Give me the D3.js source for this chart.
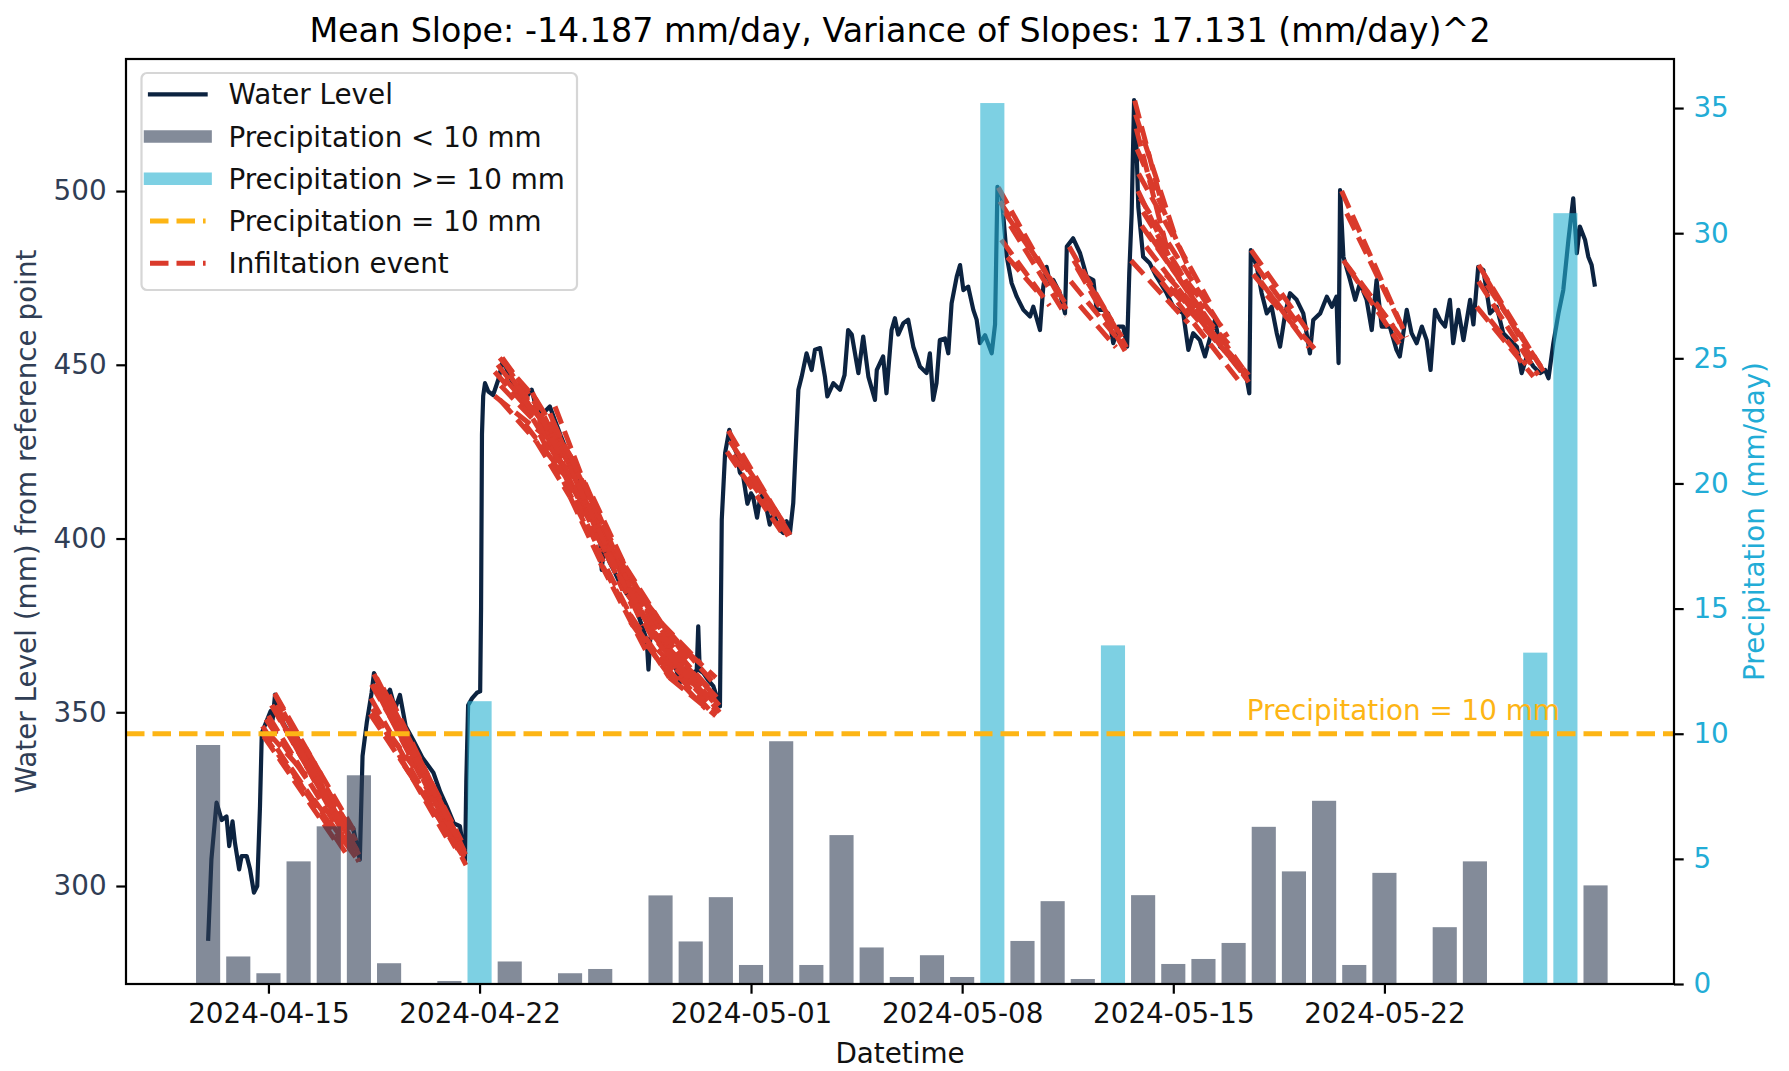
<!DOCTYPE html>
<html>
<head>
<meta charset="utf-8">
<script src="https://cdn.jsdelivr.net/npm/d3@7"></script>
<style>
  body { margin: 0; background: #fff; }
  svg text { font-family: "DejaVu Sans", sans-serif; }
</style>
</head>
<body>
<svg id="chart"></svg>
<script>
// Water level series [time, mm from reference point]
const waterLevel = [
  ["2024-04-13 00:00", 284.2], ["2024-04-13 02:38", 307.7], ["2024-04-13 06:43", 324.0], ["2024-04-13 10:48", 319.0],
  ["2024-04-13 14:38", 320.0], ["2024-04-13 16:48", 311.5], ["2024-04-13 19:26", 318.6], ["2024-04-13 21:22", 312.4],
  ["2024-04-14 00:43", 304.8], ["2024-04-14 02:38", 308.6], ["2024-04-14 06:43", 308.6], ["2024-04-14 09:22", 304.8],
  ["2024-04-14 12:29", 298.1], ["2024-04-14 15:07", 300.0], ["2024-04-14 17:17", 323.0], ["2024-04-14 18:43", 344.0],
  ["2024-04-14 23:02", 347.9], ["2024-04-15 01:41", 350.3], ["2024-04-15 03:22", 347.9], ["2024-04-15 05:17", 355.1],
  ["2024-04-15 09:07", 348.9], ["2024-04-15 13:12", 346.0], ["2024-04-15 16:48", 344.0], ["2024-04-15 20:24", 345.0],
  ["2024-04-16 00:00", 342.0], ["2024-04-16 06:29", 339.3], ["2024-04-16 12:00", 333.0], ["2024-04-16 19:41", 325.8],
  ["2024-04-17 02:24", 322.0], ["2024-04-17 07:12", 320.5], ["2024-04-17 11:31", 319.1], ["2024-04-17 15:36", 317.0],
  ["2024-04-17 19:26", 316.7], ["2024-04-17 23:31", 309.6], ["2024-04-18 00:43", 307.6], ["2024-04-18 02:53", 337.4],
  ["2024-04-18 06:14", 347.0], ["2024-04-18 10:05", 355.6], ["2024-04-18 12:00", 361.3], ["2024-04-18 16:48", 356.5],
  ["2024-04-18 20:24", 354.0], ["2024-04-19 00:43", 356.5], ["2024-04-19 04:48", 351.0], ["2024-04-19 08:38", 355.0],
  ["2024-04-19 13:12", 346.0], ["2024-04-19 19:12", 342.0], ["2024-04-20 02:24", 337.0], ["2024-04-20 11:17", 332.6],
  ["2024-04-20 16:48", 327.0], ["2024-04-20 21:50", 323.0], ["2024-04-21 03:36", 318.0], ["2024-04-21 08:24", 317.2],
  ["2024-04-21 12:29", 307.2], ["2024-04-21 13:26", 330.0], ["2024-04-21 14:53", 352.0], ["2024-04-21 18:00", 354.0],
  ["2024-04-21 21:50", 355.6], ["2024-04-22 00:29", 356.0], ["2024-04-22 01:12", 380.0], ["2024-04-22 01:55", 430.0],
  ["2024-04-22 02:53", 441.0], ["2024-04-22 04:19", 444.7], ["2024-04-22 06:58", 442.3], ["2024-04-22 10:48", 441.3],
  ["2024-04-22 14:53", 445.7], ["2024-04-22 18:43", 451.4], ["2024-04-23 00:00", 446.6], ["2024-04-23 04:48", 443.0],
  ["2024-04-23 08:10", 441.8], ["2024-04-23 12:00", 440.0], ["2024-04-23 17:31", 442.8], ["2024-04-23 21:22", 437.0],
  ["2024-04-24 02:24", 436.0], ["2024-04-24 07:55", 438.0], ["2024-04-24 12:00", 434.0], ["2024-04-24 15:50", 430.3],
  ["2024-04-24 19:55", 426.5], ["2024-04-25 00:00", 422.7], ["2024-04-25 04:05", 419.0], ["2024-04-25 07:55", 415.0],
  ["2024-04-25 12:00", 411.0], ["2024-04-25 15:50", 407.3], ["2024-04-25 19:55", 403.5], ["2024-04-26 00:00", 399.7],
  ["2024-04-26 01:12", 391.0], ["2024-04-26 02:53", 397.0], ["2024-04-26 07:41", 393.0], ["2024-04-26 12:00", 390.0],
  ["2024-04-26 15:36", 387.2], ["2024-04-26 20:24", 384.5], ["2024-04-27 02:24", 381.4], ["2024-04-27 07:12", 377.0],
  ["2024-04-27 12:58", 370.9], ["2024-04-27 14:24", 362.3], ["2024-04-27 15:50", 371.5], ["2024-04-27 20:53", 371.9],
  ["2024-04-28 02:24", 369.0], ["2024-04-28 07:26", 367.0], ["2024-04-28 12:00", 363.0], ["2024-04-28 15:22", 358.5],
  ["2024-04-28 19:12", 362.5], ["2024-04-28 23:31", 361.0], ["2024-04-29 04:48", 362.0], ["2024-04-29 06:00", 374.7],
  ["2024-04-29 07:12", 362.0], ["2024-04-29 10:05", 361.3], ["2024-04-29 14:24", 359.0], ["2024-04-29 18:00", 357.5],
  ["2024-04-29 23:17", 351.7], ["2024-04-30 00:43", 405.4], ["2024-04-30 03:22", 424.6], ["2024-04-30 06:43", 431.3],
  ["2024-04-30 09:36", 427.0], ["2024-04-30 12:29", 424.6], ["2024-04-30 15:07", 419.0], ["2024-04-30 17:46", 417.9],
  ["2024-04-30 21:07", 410.0], ["2024-05-01 00:00", 413.0], ["2024-05-01 01:41", 412.0], ["2024-05-01 04:48", 406.0],
  ["2024-05-01 07:12", 411.5], ["2024-05-01 09:50", 413.0], ["2024-05-01 12:29", 408.3], ["2024-05-01 14:53", 404.0],
  ["2024-05-01 17:46", 407.3], ["2024-05-01 23:02", 402.5], ["2024-05-02 01:41", 401.6], ["2024-05-02 04:19", 405.0],
  ["2024-05-02 06:58", 401.6], ["2024-05-02 09:36", 410.2], ["2024-05-02 11:02", 421.7], ["2024-05-02 13:41", 442.8],
  ["2024-05-02 16:19", 446.6], ["2024-05-02 20:10", 453.3], ["2024-05-03 00:14", 448.5], ["2024-05-03 02:53", 454.3],
  ["2024-05-03 06:58", 454.8], ["2024-05-03 10:48", 446.6], ["2024-05-03 12:43", 440.9], ["2024-05-03 17:31", 444.7],
  ["2024-05-03 22:48", 442.8], ["2024-05-04 02:24", 447.0], ["2024-05-04 05:17", 460.0], ["2024-05-04 08:10", 458.7],
  ["2024-05-04 13:26", 447.6], ["2024-05-04 17:17", 458.1], ["2024-05-04 21:22", 446.6], ["2024-05-05 02:38", 439.9],
  ["2024-05-05 04:05", 448.5], ["2024-05-05 09:07", 452.4], ["2024-05-05 11:46", 441.8], ["2024-05-05 15:50", 460.0],
  ["2024-05-05 18:29", 463.4], ["2024-05-05 21:07", 458.7], ["2024-05-06 01:12", 462.0], ["2024-05-06 05:02", 463.0],
  ["2024-05-06 09:07", 455.2], ["2024-05-06 14:24", 449.5], ["2024-05-06 19:41", 447.6], ["2024-05-06 22:19", 453.3],
  ["2024-05-07 00:58", 439.9], ["2024-05-07 03:36", 444.7], ["2024-05-07 06:14", 457.1], ["2024-05-07 10:19", 457.6],
  ["2024-05-07 12:58", 453.3], ["2024-05-07 15:36", 467.7], ["2024-05-07 19:41", 475.4], ["2024-05-07 22:19", 478.7],
  ["2024-05-08 00:58", 471.5], ["2024-05-08 04:48", 472.5], ["2024-05-08 08:53", 465.8], ["2024-05-08 11:31", 463.0],
  ["2024-05-08 14:10", 456.2], ["2024-05-08 18:14", 458.5], ["2024-05-08 23:31", 453.3], ["2024-05-09 02:10", 461.6],
  ["2024-05-09 04:05", 501.2], ["2024-05-09 07:26", 498.4], ["2024-05-09 11:31", 481.1], ["2024-05-09 15:22", 473.5],
  ["2024-05-09 19:26", 469.6], ["2024-05-10 00:43", 465.8], ["2024-05-10 06:00", 463.9], ["2024-05-10 08:38", 466.7],
  ["2024-05-10 13:55", 460.0], ["2024-05-10 16:34", 472.5], ["2024-05-10 19:12", 478.2], ["2024-05-10 21:50", 473.5],
  ["2024-05-11 00:29", 474.4], ["2024-05-11 05:46", 470.6], ["2024-05-11 09:50", 464.8], ["2024-05-11 11:17", 484.0],
  ["2024-05-11 16:19", 486.4], ["2024-05-11 21:50", 482.1], ["2024-05-12 03:07", 475.4], ["2024-05-12 08:24", 474.4],
  ["2024-05-12 11:02", 465.8], ["2024-05-12 16:19", 465.8], ["2024-05-12 20:10", 464.8], ["2024-05-13 00:14", 456.2],
  ["2024-05-13 04:19", 461.0], ["2024-05-13 08:10", 461.0], ["2024-05-13 11:17", 455.2], ["2024-05-13 12:58", 476.3],
  ["2024-05-13 14:53", 493.6], ["2024-05-13 16:48", 526.2], ["2024-05-13 18:43", 512.7], ["2024-05-13 20:10", 495.4],
  ["2024-05-14 00:00", 481.1], ["2024-05-14 05:17", 479.2], ["2024-05-14 10:34", 475.4], ["2024-05-14 18:43", 470.6],
  ["2024-05-15 00:00", 466.7], ["2024-05-15 07:55", 464.8], ["2024-05-15 12:00", 454.3], ["2024-05-15 15:50", 459.1],
  ["2024-05-15 21:07", 457.1], ["2024-05-16 01:12", 452.4], ["2024-05-16 09:07", 462.9], ["2024-05-16 13:12", 455.2],
  ["2024-05-16 21:07", 453.3], ["2024-05-17 05:02", 449.5], ["2024-05-17 10:34", 445.7], ["2024-05-17 12:29", 441.8],
  ["2024-05-17 13:41", 483.0], ["2024-05-17 18:29", 478.2], ["2024-05-17 22:19", 470.6], ["2024-05-18 02:24", 464.8],
  ["2024-05-18 06:14", 466.7], ["2024-05-18 10:19", 459.1], ["2024-05-18 12:58", 455.2], ["2024-05-18 17:02", 464.8],
  ["2024-05-18 20:53", 470.6], ["2024-05-19 02:10", 468.7], ["2024-05-19 07:26", 464.8], ["2024-05-19 12:43", 453.3],
  ["2024-05-19 15:22", 462.9], ["2024-05-19 20:53", 464.8], ["2024-05-20 02:10", 469.6], ["2024-05-20 06:14", 466.7],
  ["2024-05-20 09:50", 469.6], ["2024-05-20 11:31", 450.5], ["2024-05-20 12:43", 500.3], ["2024-05-20 15:22", 481.1],
  ["2024-05-20 20:38", 474.4], ["2024-05-21 00:43", 468.7], ["2024-05-21 04:34", 473.5], ["2024-05-21 09:50", 468.7],
  ["2024-05-21 13:55", 460.0], ["2024-05-21 17:46", 474.4], ["2024-05-21 21:50", 461.0], ["2024-05-22 04:19", 461.0],
  ["2024-05-22 09:36", 454.3], ["2024-05-22 12:14", 452.4], ["2024-05-22 17:46", 465.8], ["2024-05-22 21:36", 459.1],
  ["2024-05-23 01:41", 456.2], ["2024-05-23 05:46", 461.0], ["2024-05-23 09:36", 457.1], ["2024-05-23 12:43", 448.5],
  ["2024-05-23 16:19", 465.8], ["2024-05-23 20:10", 462.9], ["2024-05-24 00:14", 461.0], ["2024-05-24 04:05", 468.7],
  ["2024-05-24 06:43", 456.2], ["2024-05-24 10:48", 465.8], ["2024-05-24 14:53", 457.1], ["2024-05-24 20:10", 468.7],
  ["2024-05-24 22:48", 461.6], ["2024-05-25 02:38", 478.2], ["2024-05-25 06:43", 477.3], ["2024-05-25 12:00", 464.8],
  ["2024-05-25 17:17", 466.7], ["2024-05-25 22:34", 459.1], ["2024-05-26 04:05", 457.1], ["2024-05-26 09:22", 455.2],
  ["2024-05-26 13:12", 447.6], ["2024-05-26 17:17", 452.4], ["2024-05-26 22:34", 449.5], ["2024-05-27 03:50", 447.6],
  ["2024-05-27 07:55", 448.5], ["2024-05-27 10:34", 446.1], ["2024-05-27 14:24", 456.2], ["2024-05-27 18:29", 464.8],
  ["2024-05-27 22:19", 471.5], ["2024-05-28 02:24", 485.9], ["2024-05-28 06:14", 497.9], ["2024-05-28 09:07", 482.1],
  ["2024-05-28 11:31", 489.8], ["2024-05-28 15:36", 486.0], ["2024-05-28 18:14", 481.1], ["2024-05-28 20:53", 478.7],
  ["2024-05-28 23:31", 472.5]
];

// Daily precipitation (mm/day)
const precipDates = [
  "2024-04-13", "2024-04-14", "2024-04-15", "2024-04-16", "2024-04-17", "2024-04-18", "2024-04-19", "2024-04-20",
  "2024-04-21", "2024-04-22", "2024-04-23", "2024-04-24", "2024-04-25", "2024-04-26", "2024-04-27", "2024-04-28",
  "2024-04-29", "2024-04-30", "2024-05-01", "2024-05-02", "2024-05-03", "2024-05-04", "2024-05-05", "2024-05-06",
  "2024-05-07", "2024-05-08", "2024-05-09", "2024-05-10", "2024-05-11", "2024-05-12", "2024-05-13", "2024-05-14",
  "2024-05-15", "2024-05-16", "2024-05-17", "2024-05-18", "2024-05-19", "2024-05-20", "2024-05-21", "2024-05-22",
  "2024-05-23", "2024-05-24", "2024-05-25", "2024-05-26", "2024-05-27", "2024-05-28", "2024-05-29"
];
const precipValues = [
  9.55, 1.1, 0.43, 4.9, 6.3, 8.34, 0.83, 0,
  0.12, 11.3, 0.9, 0, 0.43, 0.6, 0, 3.54,
  1.7, 3.47, 0.76, 9.7, 0.76, 5.95, 1.46, 0.28,
  1.15, 0.28, 35.2, 1.72, 3.31, 0.2, 13.53, 3.55,
  0.8, 1.0, 1.64, 6.28, 4.5, 7.32, 0.76, 4.44,
  0, 2.27, 4.9, 0, 13.24, 30.8, 3.94
];
const precipThreshold = 10;

// Infiltration event fits: [start time, start level, end time, end level]
const infiltrationEvents = [
  // 04-15 recession
  ["2024-04-15 05:17", 355, "2024-04-17 21:36", 313], ["2024-04-15 06:00", 352, "2024-04-18 00:00", 309],
  ["2024-04-15 00:00", 349, "2024-04-17 16:48", 311], ["2024-04-14 19:12", 346, "2024-04-17 14:24", 309],
  ["2024-04-14 20:24", 343, "2024-04-17 07:12", 312], ["2024-04-15 09:36", 348, "2024-04-18 00:00", 307],
  ["2024-04-15 14:24", 345, "2024-04-17 19:12", 313], ["2024-04-15 02:24", 352, "2024-04-17 12:00", 316],
  ["2024-04-16 00:00", 341, "2024-04-17 22:48", 310],
  ["2024-04-15 03:00", 352, "2024-04-16 12:00", 331], ["2024-04-15 12:00", 350, "2024-04-16 20:00", 328],
  ["2024-04-15 18:00", 344, "2024-04-17 00:00", 324], ["2024-04-16 00:00", 340, "2024-04-17 06:00", 321],
  ["2024-04-16 06:00", 336, "2024-04-17 12:00", 315], ["2024-04-16 12:00", 334, "2024-04-17 18:00", 316],
  ["2024-04-16 18:00", 328, "2024-04-17 23:00", 310], ["2024-04-15 00:00", 344, "2024-04-16 06:00", 332],
  ["2024-04-14 22:00", 348, "2024-04-16 08:00", 330],
  ["2024-04-15 05:00", 355.5, "2024-04-16 18:00", 332], ["2024-04-16 06:00", 339.5, "2024-04-17 20:00", 316],
  ["2024-04-14 19:00", 344, "2024-04-16 06:00", 327], ["2024-04-15 18:00", 334, "2024-04-17 12:00", 312],
  ["2024-04-16 12:00", 325, "2024-04-17 22:00", 308],
  // 04-18 recession
  ["2024-04-18 12:00", 361, "2024-04-21 12:00", 308], ["2024-04-18 13:12", 358, "2024-04-21 07:12", 311],
  ["2024-04-18 09:36", 354, "2024-04-21 04:48", 311], ["2024-04-18 14:24", 356, "2024-04-21 13:12", 306],
  ["2024-04-18 10:48", 351, "2024-04-20 21:36", 314], ["2024-04-18 19:12", 357, "2024-04-21 09:36", 313],
  ["2024-04-19 00:00", 355, "2024-04-21 12:00", 310], ["2024-04-18 12:00", 358, "2024-04-21 00:00", 316],
  ["2024-04-18 10:00", 358, "2024-04-19 18:00", 338], ["2024-04-18 16:00", 357, "2024-04-20 00:00", 334],
  ["2024-04-18 22:00", 352, "2024-04-20 06:00", 330], ["2024-04-19 06:00", 347, "2024-04-20 14:00", 325],
  ["2024-04-19 12:00", 344, "2024-04-20 20:00", 322], ["2024-04-19 20:00", 337, "2024-04-21 04:00", 316],
  ["2024-04-20 04:00", 331, "2024-04-21 12:00", 309], ["2024-04-20 10:00", 326, "2024-04-21 13:00", 309],
  ["2024-04-18 12:00", 350, "2024-04-19 20:00", 334],
  ["2024-04-18 14:00", 360, "2024-04-19 22:00", 337], ["2024-04-19 12:00", 344, "2024-04-21 06:00", 314],
  ["2024-04-18 09:00", 349.5, "2024-04-19 18:00", 331.5], ["2024-04-19 12:00", 334.7, "2024-04-21 06:00", 311.5],
  ["2024-04-20 06:00", 324.7, "2024-04-21 10:00", 309],
  // 04-22 recession
  ["2024-04-22 14:24", 450, "2024-04-24 14:24", 428], ["2024-04-22 19:12", 451, "2024-04-25 00:00", 421],
  ["2024-04-22 16:48", 444, "2024-04-24 19:12", 425], ["2024-04-22 12:00", 441, "2024-04-24 09:36", 428],
  ["2024-04-23 07:12", 441, "2024-04-25 12:00", 410], ["2024-04-23 19:12", 438, "2024-04-26 00:00", 399],
  ["2024-04-24 04:48", 430, "2024-04-26 09:36", 392], ["2024-04-24 14:24", 430, "2024-04-26 19:12", 390],
  ["2024-04-25 00:00", 420, "2024-04-27 04:48", 381], ["2024-04-25 09:36", 411, "2024-04-27 12:00", 377],
  ["2024-04-25 19:12", 406, "2024-04-28 00:00", 372], ["2024-04-26 04:48", 398, "2024-04-28 09:36", 367],
  ["2024-04-26 14:24", 392, "2024-04-28 19:12", 364], ["2024-04-27 00:00", 386, "2024-04-29 04:48", 360],
  ["2024-04-27 09:36", 378, "2024-04-29 14:24", 357], ["2024-04-27 19:12", 373, "2024-04-29 22:48", 352],
  ["2024-04-28 04:48", 369, "2024-04-29 21:36", 354], ["2024-04-27 14:24", 380, "2024-04-29 16:48", 359],
  ["2024-04-26 21:36", 384, "2024-04-29 00:00", 358], ["2024-04-23 00:00", 447, "2024-04-25 04:48", 418],
  ["2024-04-27 21:36", 368, "2024-04-29 21:36", 350], ["2024-04-28 00:00", 366, "2024-04-29 19:12", 349],
  ["2024-04-22 12:00", 448, "2024-04-23 18:00", 436], ["2024-04-22 18:00", 452, "2024-04-24 00:00", 437],
  ["2024-04-22 20:00", 446, "2024-04-24 06:00", 432], ["2024-04-23 06:00", 444, "2024-04-24 18:00", 426],
  ["2024-04-23 12:00", 440, "2024-04-25 00:00", 416], ["2024-04-23 18:00", 442, "2024-04-25 06:00", 416],
  ["2024-04-24 00:00", 436, "2024-04-25 12:00", 408], ["2024-04-24 08:00", 436, "2024-04-25 20:00", 404],
  ["2024-04-24 16:00", 428, "2024-04-26 04:00", 396], ["2024-04-25 00:00", 424, "2024-04-26 12:00", 392],
  ["2024-04-25 06:00", 416, "2024-04-26 18:00", 385], ["2024-04-25 14:00", 410, "2024-04-27 02:00", 380],
  ["2024-04-25 22:00", 403, "2024-04-27 10:00", 375], ["2024-04-26 06:00", 396, "2024-04-27 18:00", 371],
  ["2024-04-26 14:00", 390, "2024-04-28 02:00", 368], ["2024-04-26 22:00", 386, "2024-04-28 10:00", 363],
  ["2024-04-27 06:00", 380, "2024-04-28 18:00", 360], ["2024-04-27 14:00", 374, "2024-04-29 02:00", 358],
  ["2024-04-27 22:00", 370, "2024-04-29 10:00", 355], ["2024-04-28 06:00", 368, "2024-04-29 18:00", 353],
  ["2024-04-28 14:00", 364, "2024-04-29 23:00", 350], ["2024-04-24 12:00", 438, "2024-04-26 00:00", 404],
  ["2024-04-25 12:00", 416, "2024-04-27 00:00", 386], ["2024-04-26 12:00", 396, "2024-04-28 00:00", 374],
  ["2024-04-27 12:00", 382, "2024-04-29 00:00", 364], ["2024-04-24 00:00", 430, "2024-04-25 12:00", 404],
  ["2024-04-26 00:00", 393, "2024-04-27 12:00", 368], ["2024-04-27 00:00", 376, "2024-04-28 12:00", 358],
  ["2024-04-22 16:00", 452, "2024-04-23 21:00", 440], ["2024-04-23 21:00", 440, "2024-04-25 00:00", 424],
  ["2024-04-24 10:00", 434, "2024-04-25 18:00", 410], ["2024-04-25 00:00", 424, "2024-04-26 02:00", 404],
  ["2024-04-25 18:00", 412, "2024-04-26 20:00", 392], ["2024-04-26 02:00", 404, "2024-04-27 05:00", 386],
  ["2024-04-26 20:00", 392, "2024-04-28 00:00", 376], ["2024-04-27 05:00", 386, "2024-04-28 07:00", 372],
  ["2024-04-28 00:00", 376, "2024-04-29 08:00", 364], ["2024-04-28 07:00", 372, "2024-04-29 20:00", 360],
  ["2024-04-22 16:00", 440, "2024-04-23 21:00", 428], ["2024-04-23 12:00", 433, "2024-04-24 20:00", 418],
  ["2024-04-23 21:00", 428, "2024-04-25 00:00", 412], ["2024-04-24 20:00", 418, "2024-04-26 00:00", 396],
  ["2024-04-25 00:00", 412, "2024-04-26 02:00", 392], ["2024-04-25 20:00", 398, "2024-04-27 00:00", 378],
  ["2024-04-26 02:00", 392, "2024-04-27 05:00", 374.5], ["2024-04-27 00:00", 378, "2024-04-28 04:00", 363],
  ["2024-04-27 05:00", 374.5, "2024-04-28 07:00", 360], ["2024-04-28 04:00", 363, "2024-04-29 12:00", 351],
  ["2024-04-28 07:00", 360, "2024-04-29 20:00", 349],
  // 04-30 recession
  ["2024-04-30 06:00", 431, "2024-05-02 07:12", 401], ["2024-04-30 07:12", 428, "2024-05-02 04:48", 403],
  ["2024-04-30 04:48", 425, "2024-05-02 00:00", 402], ["2024-04-30 09:36", 424, "2024-05-02 06:00", 400.5],
  ["2024-04-30 14:24", 424, "2024-05-01 21:36", 405],
  // 05-09 recession
  ["2024-05-09 04:48", 501, "2024-05-11 10:48", 466], ["2024-05-09 06:00", 497, "2024-05-11 09:36", 468],
  ["2024-05-09 09:36", 494, "2024-05-11 07:12", 470], ["2024-05-09 07:12", 486, "2024-05-10 21:36", 467],
  ["2024-05-09 12:00", 481, "2024-05-10 14:24", 470], ["2024-05-09 14:24", 490, "2024-05-11 10:48", 464],
  // 05-11 recession
  ["2024-05-11 13:12", 484, "2024-05-13 10:48", 455], ["2024-05-11 16:48", 480, "2024-05-13 07:12", 458],
  ["2024-05-11 14:24", 474, "2024-05-13 04:48", 457], ["2024-05-11 21:36", 467, "2024-05-13 02:24", 455],
  ["2024-05-11 19:12", 478, "2024-05-13 09:36", 454],
  // 05-13 recession
  ["2024-05-13 17:17", 526, "2024-05-14 14:24", 497], ["2024-05-13 18:00", 522, "2024-05-15 02:24", 486],
  ["2024-05-13 19:12", 512, "2024-05-15 14:24", 476], ["2024-05-13 20:24", 505, "2024-05-16 04:48", 468],
  ["2024-05-13 21:36", 498, "2024-05-16 19:12", 458], ["2024-05-13 22:48", 490, "2024-05-17 07:12", 449],
  ["2024-05-14 02:24", 484, "2024-05-17 10:48", 446], ["2024-05-14 07:12", 478, "2024-05-17 09:36", 447],
  ["2024-05-13 14:24", 480, "2024-05-15 12:00", 462], ["2024-05-14 14:24", 474, "2024-05-17 07:12", 444],
  ["2024-05-15 00:00", 472, "2024-05-17 12:00", 447], ["2024-05-14 00:00", 494, "2024-05-16 00:00", 466],
  ["2024-05-14 09:36", 486, "2024-05-16 14:24", 461],
  ["2024-05-13 18:30", 518, "2024-05-14 20:00", 482], ["2024-05-14 04:00", 488, "2024-05-16 08:00", 460],
  ["2024-05-14 18:00", 476, "2024-05-16 20:00", 456], ["2024-05-15 06:00", 470, "2024-05-17 06:00", 448],
  ["2024-05-15 18:00", 466, "2024-05-17 12:00", 445], ["2024-05-13 20:00", 500, "2024-05-15 06:00", 474],
  // 05-17 recession
  ["2024-05-17 13:55", 483, "2024-05-19 14:24", 458], ["2024-05-17 16:48", 479, "2024-05-19 04:48", 461],
  ["2024-05-17 21:36", 474, "2024-05-19 12:00", 455], ["2024-05-18 02:24", 470, "2024-05-19 18:00", 454],
  ["2024-05-17 15:36", 476, "2024-05-18 21:36", 463],
  // 05-20 recession
  ["2024-05-20 13:55", 500, "2024-05-22 17:46", 458], ["2024-05-20 18:00", 493.6, "2024-05-22 12:29", 462],
  ["2024-05-20 15:22", 480, "2024-05-22 15:07", 457], ["2024-05-21 04:34", 474, "2024-05-22 07:12", 461],
  ["2024-05-20 19:12", 478, "2024-05-22 12:00", 456],
  // 05-25 recession
  ["2024-05-25 02:53", 478.7, "2024-05-27 09:07", 446.6], ["2024-05-25 02:53", 474, "2024-05-27 02:24", 447],
  ["2024-05-25 01:26", 466.7, "2024-05-26 22:34", 446.6], ["2024-05-25 09:36", 473, "2024-05-27 07:12", 448],
  ["2024-05-25 12:00", 463, "2024-05-26 16:48", 450], ["2024-05-25 07:12", 476, "2024-05-27 00:00", 450]
];

const xTickDates = ["2024-04-15", "2024-04-22", "2024-05-01", "2024-05-08", "2024-05-15", "2024-05-22"];
const levelTicks = [300, 350, 400, 450, 500];
const precipTicks = [0, 5, 10, 15, 20, 25, 30, 35];

const legendLabels = ["Water Level", "Precipitation < 10 mm", "Precipitation >= 10 mm", "Precipitation = 10 mm", "Infiltation event"];

const colors = {
  level: '#0c2340',
  levelAxis: '#303e55',
  lowRain: '#303e55',
  highRain: '#26b1d0',
  rainAxis: '#22acd6',
  threshold: '#fdb515',
  infil: '#da3a2b'
};

const config = {
  width: 1789, height: 1071,
  margin: { top: 59, right: 115, bottom: 87, left: 126 },
  fontSize: 27.8
};

const parseTime = d3.utcParse('%Y-%m-%d %H:%M');
const parseDay = d3.utcParse('%Y-%m-%d');
const DAY = 864e5;

const svg = d3.select('#chart')
  .attr('width', config.width)
  .attr('height', config.height);

const innerW = config.width - config.margin.left - config.margin.right;
const innerH = config.height - config.margin.top - config.margin.bottom;
const plotLeft = config.margin.left, plotTop = config.margin.top;
const plotRight = plotLeft + innerW, plotBottom = plotTop + innerH;

// Scales
const xScale = d3.scaleUtc()
  .domain([parseTime('2024-04-10 06:40'), parseTime('2024-05-31 14:25')])
  .range([plotLeft, plotRight]);

const yLevel = d3.scaleLinear().domain([271.8, 538]).range([plotBottom, plotTop]);
const yRain = d3.scaleLinear().domain([0, 36.96]).range([plotBottom, plotTop]);

svg.append('defs').append('clipPath').attr('id', 'plot-clip')
  .append('rect')
  .attr('x', plotLeft).attr('y', plotTop).attr('width', innerW).attr('height', innerH);

const plot = svg.append('g').attr('clip-path', 'url(#plot-clip)');

// Water level line
const levelData = waterLevel.map(d => ({ t: parseTime(d[0]), v: d[1] }));
plot.append('path')
  .datum(levelData)
  .attr('fill', 'none')
  .attr('stroke', colors.level)
  .attr('stroke-width', 4.2)
  .attr('stroke-linejoin', 'round')
  .attr('d', d3.line().x(d => xScale(d.t)).y(d => yLevel(d.v)));

// Infiltration event fits
plot.selectAll('.infil')
  .data(infiltrationEvents)
  .enter().append('line')
  .attr('class', 'infil')
  .attr('x1', d => xScale(parseTime(d[0])))
  .attr('y1', d => yLevel(d[1]))
  .attr('x2', d => xScale(parseTime(d[2])))
  .attr('y2', d => yLevel(d[3]))
  .attr('stroke', colors.infil)
  .attr('stroke-width', 5)
  .attr('stroke-dasharray', '18.5,8');

// Precipitation bars (twin axis, drawn on top with alpha)
const rainData = precipDates.map((d, i) => ({ t: parseDay(d), v: precipValues[i] }));
plot.selectAll('.bar')
  .data(rainData)
  .enter().append('rect')
  .attr('class', 'bar')
  .attr('x', d => xScale(new Date(+d.t - 0.4 * DAY)))
  .attr('width', d => xScale(new Date(+d.t + 0.4 * DAY)) - xScale(new Date(+d.t - 0.4 * DAY)))
  .attr('y', d => yRain(d.v))
  .attr('height', d => yRain(0) - yRain(d.v))
  .attr('fill', d => d.v >= precipThreshold ? colors.highRain : colors.lowRain)
  .attr('fill-opacity', 0.6);

// Threshold line
plot.append('line')
  .attr('x1', plotLeft).attr('x2', plotRight)
  .attr('y1', yRain(precipThreshold)).attr('y2', yRain(precipThreshold))
  .attr('stroke', colors.threshold)
  .attr('stroke-width', 5)
  .attr('stroke-dasharray', '18.5,8');

svg.append('text')
  .attr('x', xScale(parseTime('2024-05-17 10:30')))
  .attr('y', yRain(10.53))
  .attr('fill', colors.threshold)
  .style('font-size', config.fontSize + 'px')
  .text('Precipitation = 10 mm');

// Axes
function styleAxis(g, labelColor) {
  g.select('.domain').remove();
  g.selectAll('.tick line').attr('stroke', '#000').attr('stroke-width', 2.2);
  g.selectAll('.tick text')
    .attr('fill', labelColor)
    .style('font-size', config.fontSize + 'px')
    .style('font-family', '"DejaVu Sans", sans-serif');
}

svg.append('g')
  .attr('transform', `translate(0,${plotBottom})`)
  .call(d3.axisBottom(xScale)
    .tickValues(xTickDates.map(parseDay))
    .tickFormat(d3.utcFormat('%Y-%m-%d'))
    .tickSize(9.7).tickPadding(9.7))
  .call(g => styleAxis(g, '#111'));

svg.append('g')
  .attr('transform', `translate(${plotLeft},0)`)
  .call(d3.axisLeft(yLevel).tickValues(levelTicks).tickSize(9.7).tickPadding(9.7))
  .call(g => styleAxis(g, colors.levelAxis));

svg.append('g')
  .attr('transform', `translate(${plotRight},0)`)
  .call(d3.axisRight(yRain).tickValues(precipTicks).tickSize(9.7).tickPadding(9.7))
  .call(g => styleAxis(g, colors.rainAxis));

// Spines
svg.append('rect')
  .attr('x', plotLeft).attr('y', plotTop)
  .attr('width', innerW).attr('height', innerH)
  .attr('fill', 'none')
  .attr('stroke', '#000')
  .attr('stroke-width', 2.2);

// Title and axis labels
svg.append('text')
  .attr('x', (plotLeft + plotRight) / 2).attr('y', 42)
  .attr('text-anchor', 'middle')
  .style('font-size', '33.3px')
  .attr('fill', '#000')
  .text('Mean Slope: -14.187 mm/day, Variance of Slopes: 17.131 (mm/day)^2');

svg.append('text')
  .attr('x', (plotLeft + plotRight) / 2).attr('y', 1063)
  .attr('text-anchor', 'middle')
  .style('font-size', config.fontSize + 'px')
  .attr('fill', '#111')
  .text('Datetime');

svg.append('text')
  .attr('transform', `translate(36,${(plotTop + plotBottom) / 2}) rotate(-90)`)
  .attr('text-anchor', 'middle')
  .style('font-size', config.fontSize + 'px')
  .attr('fill', colors.levelAxis)
  .text('Water Level (mm) from reference point');

svg.append('text')
  .attr('transform', `translate(1764,${(plotTop + plotBottom) / 2}) rotate(-90)`)
  .attr('text-anchor', 'middle')
  .style('font-size', config.fontSize + 'px')
  .attr('fill', colors.rainAxis)
  .text('Precipitation (mm/day)');

// Legend
const legend = svg.append('g');
legend.append('rect')
  .attr('x', 141.5).attr('y', 73)
  .attr('width', 435.5).attr('height', 217)
  .attr('rx', 5.5)
  .attr('fill', '#fff').attr('fill-opacity', 0.8)
  .attr('stroke', '#d6d6d6').attr('stroke-width', 2.2);

const handleStyles = [
  { color: colors.level, width: 4.2, dash: null, opacity: 1 },
  { color: colors.lowRain, width: 12.5, dash: null, opacity: 0.6 },
  { color: colors.highRain, width: 12.5, dash: null, opacity: 0.6 },
  { color: colors.threshold, width: 5, dash: '18.5,8', opacity: 1 },
  { color: colors.infil, width: 5, dash: '18.5,8', opacity: 1 }
];

legendLabels.forEach((label, i) => {
  const cy = 94.3 + i * 42.25;
  const s = handleStyles[i];
  legend.append('line')
    .attr('x1', 150).attr('x2', 205.6)
    .attr('y1', cy).attr('y2', cy)
    .attr('stroke', s.color)
    .attr('stroke-opacity', s.opacity)
    .attr('stroke-width', s.width)
    .attr('stroke-linecap', s.dash ? 'butt' : 'square')
    .attr('stroke-dasharray', s.dash);
  legend.append('text')
    .attr('x', 228.5).attr('y', cy + 10)
    .style('font-size', config.fontSize + 'px')
    .attr('fill', '#111')
    .text(label);
});
</script>
</body>
</html>
